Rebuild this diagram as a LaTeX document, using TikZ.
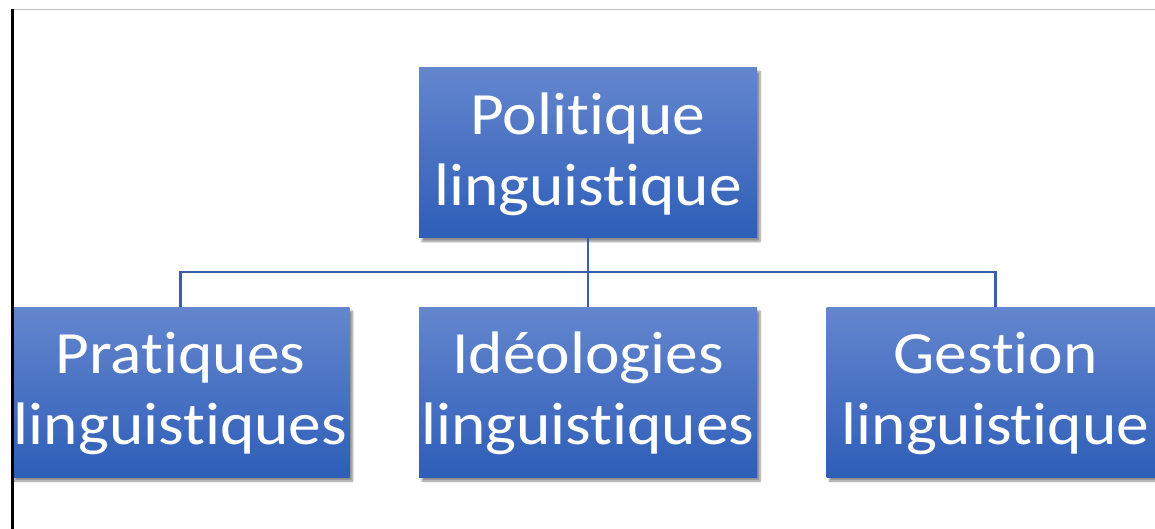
\documentclass[tikz,border=0pt]{standalone}
\usepackage{fontspec}
\setmainfont{Carlito}[Ligatures={NoCommon},RawFeature={-liga}]
\usepackage{graphicx}
\usetikzlibrary{shadows.blur}
\definecolor{boxtop}{RGB}{100,134,206}
\definecolor{boxbot}{RGB}{46,94,184}
\definecolor{linkc}{RGB}{60,94,168}
\definecolor{rulegray}{RGB}{192,192,192}
\newcommand{\boxtext}[2]{\raisebox{-3pt}[\height][\depth]{\scalebox{1.09}[1]{\begin{tabular}{@{}c@{}}#1\\#2\end{tabular}}}}
\tikzset{
  box/.style={rectangle, minimum width=338pt, minimum height=170pt, inner sep=0pt,
    top color=boxtop, bottom color=boxbot, draw=none, text=white,
    font=\fontsize{60pt}{71pt}\selectfont, align=center,
    blur shadow={shadow xshift=3pt, shadow yshift=-4pt, shadow blur steps=6, shadow opacity=45, shadow blur extra rounding=0pt}},
  link/.style={draw=linkc, line width=2.6pt}
}
\begin{document}
\begin{tikzpicture}[x=1pt,y=-1pt]
\useasboundingbox (0,0) rectangle (1155,529);
\clip (0,0) rectangle (1155,529);
\node[box] (top) at (588,152.5) {\boxtext{Politique}{linguistique}};
\node[box] (left) at (180.5,392) {\boxtext{Pratiques}{linguistiques}};
\node[box] (mid) at (588,392) {\boxtext{Idéologies}{linguistiques}};
\node[box] (right) at (995.5,392) {\boxtext{Gestion}{linguistique}};
\coordinate (j) at (588,272);
\draw[link] (top.south) -- (j);
\draw[link] (left.north) -- (left.north |- j) -- (right.north |- j) -- (right.north);
\draw[link] (j) -- (mid.north);
\draw[rulegray, line width=1.8pt] (12,9.5) -- (1155,9.5);
\draw[black, line width=3pt] (12,9) -- (12,529);
\end{tikzpicture}
\end{document}
